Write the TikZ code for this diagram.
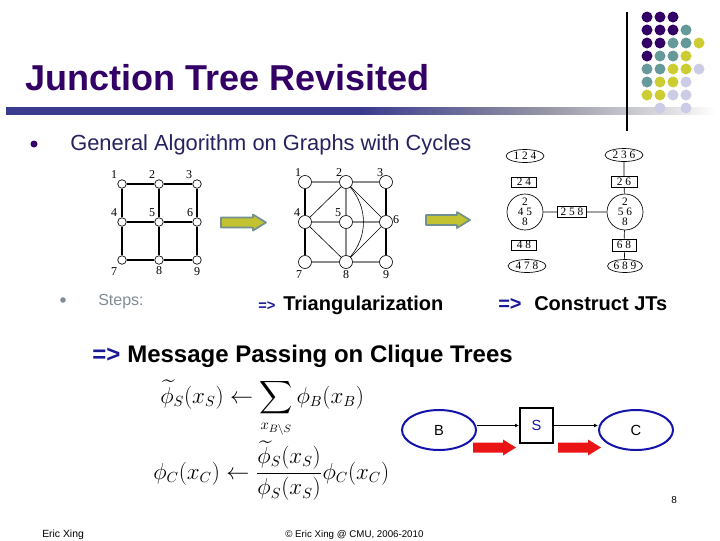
\documentclass[tikz,border=0pt]{standalone}
\usepackage{exscale}
\usepackage[no-math]{fontspec}
\setmainfont{Liberation Sans}
\newfontfamily\serifjt{Liberation Serif}
\usetikzlibrary{shapes.geometric,arrows.meta}
\definecolor{ttl}{RGB}{51,0,102}
\definecolor{bodytxt}{RGB}{38,34,96}
\definecolor{dotP}{RGB}{51,0,102}
\definecolor{dotT}{RGB}{102,153,153}
\definecolor{dotY}{RGB}{204,204,51}
\definecolor{dotL}{RGB}{204,204,230}
\definecolor{barL}{RGB}{59,59,142}
\definecolor{barM}{RGB}{150,150,165}
\definecolor{barG}{RGB}{215,215,220}
\definecolor{stepgray}{RGB}{128,140,150}
\definecolor{navy}{RGB}{25,25,150}
\definecolor{ygfill}{RGB}{195,195,50}
\definecolor{ygline}{RGB}{115,145,145}
\definecolor{redarr}{RGB}{235,20,20}
\definecolor{bblue}{RGB}{20,20,170}
\definecolor{edgegray}{RGB}{140,140,140}
\pgfdeclarehorizontalshading{barshade}{100bp}{color(0bp)=(barL); color(25bp)=(barL); color(50bp)=(barL); color(63bp)=(barM); color(71bp)=(barG); color(75bp)=(white); color(100bp)=(white)}
\newcommand\fatarrowshape[4]{\path[#1] (#2,#4-5) -- (#3-13,#4-5) -- (#3-13,#4-8) -- (#3,#4) -- (#3-13,#4+8) -- (#3-13,#4+5) -- (#2,#4+5) -- cycle;}
\begin{document}
\begin{tikzpicture}[x=0.75pt,y=-0.75pt,
  txt/.style={inner sep=0pt,anchor=base west},
  gnode/.style={circle,draw,line width=0.5pt,minimum size=6.4pt,inner sep=0pt},
  tnode/.style={circle,draw,line width=0.5pt,minimum size=9.75pt,inner sep=0pt},
  glab/.style={font=\serifjt\fontsize{9}{9}\selectfont,inner sep=0pt},
  gedge/.style={line width=0.8pt},
  grayedge/.style={line width=0.8pt,draw=edgegray},
  thinedge/.style={line width=0.45pt},
  jtell/.style={ellipse,draw,line width=0.5pt,inner sep=0pt,minimum width=28.5pt,minimum height=9.75pt,font=\serifjt\fontsize{8.5}{8.5}\selectfont},
  jtrect/.style={rectangle,draw,line width=0.5pt,inner sep=0pt,minimum width=18.75pt,minimum height=7.5pt,font=\serifjt\fontsize{8.5}{8.5}\selectfont},
  jtcirc/.style={circle,draw,line width=0.5pt,inner sep=0pt,minimum size=27pt},
  jttext/.style={inner sep=0pt,align=center,font=\serifjt\fontsize{8.5}{7.5}\selectfont},
  jtedge/.style={line width=0.5pt},
  bcell/.style={ellipse,draw=bblue,line width=1.5pt,minimum width=55.5pt,minimum height=30pt,inner sep=0pt,font=\fontsize{11}{11}\selectfont},
  sbox/.style={rectangle,draw=black,line width=1.5pt,minimum width=24.75pt,minimum height=26.25pt,inner sep=0pt,font=\fontsize{11}{11}\selectfont,text=bblue},
  conn/.style={line width=0.8pt,-{Latex[length=3pt,width=3pt]}},
  yarrow/.style={fill=ygfill,draw=ygline,line width=1.3pt,line join=round},
  rarrow/.style={fill=redarr}
]
\useasboundingbox (0,0) rectangle (720,540);

% header bar, rule, dots
\shade[shading=barshade] (6,107) rectangle (716,114);
\draw[line width=0.8pt] (627,12) -- (627,131);
\foreach \r/\row in {0/{P,P,P},1/{P,P,P,T},2/{P,P,T,T,Y},3/{P,T,T,Y},4/{T,T,Y,Y,L},5/{T,Y,Y,L},6/{Y,Y,L,L}}{
  \foreach \c [count=\i from 0] in \row {
    \fill[dot\c] (647+13*\i,17+13*\r) circle (5.5);
  }
}
\fill[dotL] (660,108) circle (5.5);
\fill[dotL] (686,108) circle (5.5);

% title
\node[txt,text=ttl,font=\fontsize{27}{27}\selectfont\bfseries] (title) at (25,90) {Junction Tree Revisited};

% bullet 1
\fill[ttl] (34,144) circle (3.5);
\node[txt,text=bodytxt,font=\fontsize{16.4}{18}\selectfont] (gen) at (70,150) {General Algorithm on Graphs with Cycles};

% graph 1
\foreach \n/\x/\y in {1/122/184,2/159/184,3/197/184,4/122/222,5/159/222,6/197/222,7/122/260,8/159/260,9/197/260}{
  \node[gnode] (a\n) at (\x,\y) {};
}
\draw[gedge] (a1)--(a2) (a2)--(a3) (a4)--(a5) (a5)--(a6) (a7)--(a8) (a8)--(a9)
  (a1)--(a4) (a4)--(a7) (a2)--(a5) (a5)--(a8) (a3)--(a6) (a6)--(a9);
\foreach \n/\dx/\dy in {1/-8/-9,2/-7/-9,3/-8/-9,4/-8/-9,5/-7/-9,6/-7/-9,7/-8/12,8/0/11,9/0/12}{
  \node[glab] at ([shift={(\dx,\dy)}]a\n.center) {\n};
}

% arrow 1
\fatarrowshape{yarrow}{221}{266}{222.5}

% graph 2
\foreach \n/\x/\y in {1/305/182,2/346/182,3/386/182,4/305/222,5/346/222,6/386/222,7/305/262,8/346/262,9/386/262}{
  \node[tnode] (t\n) at (\x,\y) {};
}
\draw[grayedge] (t1)--(t2) (t2)--(t3) (t4)--(t5) (t5)--(t6) (t7)--(t8) (t8)--(t9) (t2)--(t5) (t5)--(t8);
\draw[gedge] (t1)--(t4) (t4)--(t7) (t3)--(t6) (t6)--(t9);
\draw[thinedge] (t2)--(t4) (t2)--(t6) (t4)--(t8) (t6)--(t8);
\draw[thinedge] (t2) to[bend left=40] (t8);
\foreach \n/\dx/\dy in {1/-7/-9,2/-7/-9,3/-6/-9,4/-8/-9,5/-8/-9,7/-6/13,8/0/13,9/0/13}{
  \node[glab] at ([shift={(\dx,\dy)}]t\n.center) {\n};
}
\node[glab] at ([shift={(10,-2)}]t6.center) {6};

% arrow 2
\fatarrowshape{yarrow}{426}{470}{220}

% junction tree
\node[jtell] (e124) at (525,156) {1 2 4};
\node[jtrect] (r24) at (524,182) {2 4};
\node[jtcirc] (c2458) at (525,212) {};
\node[jttext] at (c2458) {2\\4 5\\8};
\node[jtrect,minimum width=21.75pt,minimum height=8.25pt] (r258) at (572,212) {2 5 8};
\node[jtcirc] (c2568) at (625,212) {};
\node[jttext] at (c2568) {2\\5 6\\8};
\node[jtrect] (r48) at (524,245) {4 8};
\node[jtell] (e478) at (527,266) {4 7 8};
\node[jtell] (e236) at (624,155) {2 3 6};
\node[jtrect,minimum width=19.5pt,minimum height=8.25pt] (r26) at (624,182) {2 6};
\node[jtrect,minimum width=18pt,minimum height=9pt] (r68) at (624,245) {6 8};
\node[jtell,minimum width=26.25pt] (e689) at (625,266) {6 8 9};
\draw[jtedge] (c2458)--(r258) (r258)--(c2568) (e236)--(r26) (r26)--(c2568) (c2568)--(r68) (r68)--(e689);

% steps line
\fill[stepgray] (63,300) circle (2.8);
\node[txt,text=stepgray,font=\fontsize{12}{12}\selectfont] (steps) at (98,305) {Steps:};
\node[txt,text=navy,font=\fontsize{11}{11}\selectfont\bfseries] (ar1) at (258,310) {=>};
\node[txt,font=\fontsize{15}{15}\selectfont\bfseries] (tri) at (283,310) {Triangularization};
\node[txt,text=navy,font=\fontsize{15}{15}\selectfont\bfseries] (ar2) at (498,310) {=>};
\node[txt,font=\fontsize{15}{15}\selectfont\bfseries] (cjt) at (534,310) {Construct JTs};
\node[txt,text=navy,font=\fontsize{18}{18}\selectfont\bfseries] (ar3) at (92,362) {=>};
\node[txt,font=\fontsize{18}{18}\selectfont\bfseries] (mp) at (127,362) {Message Passing on Clique Trees};

% formulas
\node[txt,font=\fontsize{16}{20}\selectfont] (f1) at (160,403) {$\displaystyle \widetilde{\phi}_S(x_S) \leftarrow \sum_{x_{B\setminus S}} \phi_B(x_B)$};
\node[txt,font=\fontsize{16}{20}\selectfont] (f2) at (153,479) {$\displaystyle \phi_C(x_C) \leftarrow \frac{\widetilde{\phi}_S(x_S)}{\phi_S(x_S)}\phi_C(x_C)$};

% B S C
\node[bcell] (B) at (439,430) {B};
\node[sbox] (S) at (536.5,425.5) {S};
\node[bcell] (C) at (636,430) {C};
\draw[conn] (B.east |- S.west) -- (S.west);
\draw[conn] (S.east) -- (C.west |- S.east);
\fatarrowshape{rarrow}{473}{516}{447.5}
\fatarrowshape{rarrow}{558}{601}{447.5}

% footer
\node[txt,font=\fontsize{7.5}{7.5}\selectfont] (pg) at (671,503) {8};
\node[txt,font=\fontsize{7.8}{7.8}\selectfont] (auth) at (42,537) {Eric Xing};
\node[txt,font=\fontsize{7.3}{7.3}\selectfont] (copy) at (285,537) {© Eric Xing @ CMU, 2006-2010};
\end{tikzpicture}
\end{document}
